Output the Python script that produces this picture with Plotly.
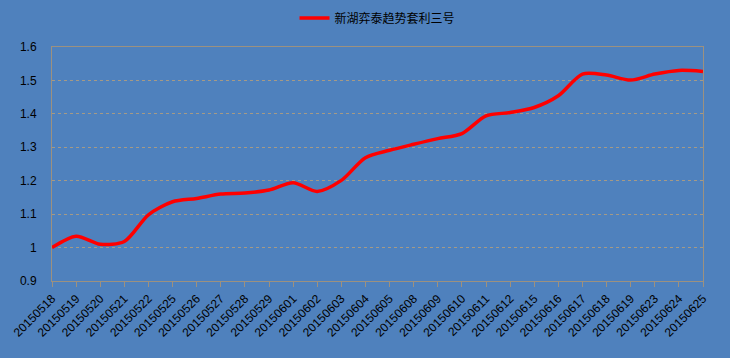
import plotly.graph_objects as go

dates = ["20150518", "20150519", "20150520", "20150521", "20150522",
         "20150525", "20150526", "20150527", "20150528", "20150529",
         "20150601", "20150602", "20150603", "20150604", "20150605",
         "20150608", "20150609", "20150610", "20150611", "20150612",
         "20150615", "20150616", "20150617", "20150618", "20150619",
         "20150623", "20150624", "20150625"]
nav = [1.000, 1.034, 1.010, 1.018, 1.098,
       1.137, 1.147, 1.160, 1.163, 1.172,
       1.194, 1.168, 1.201, 1.269, 1.291,
       1.309, 1.326, 1.341, 1.394, 1.404,
       1.419, 1.454, 1.519, 1.516, 1.501,
       1.519, 1.530, 1.527]
series_name = "新湖弈泰趋势套利三号"
y_ticks = [0.9, 1.0, 1.1, 1.2, 1.3, 1.4, 1.5, 1.6]
y_labels = ["0.9", "1", "1.1", "1.2", "1.3", "1.4", "1.5", "1.6"]

bg = "#4F81BD"
axis_col = "#9C9180"

fig = go.Figure()
fig.add_trace(go.Scatter(
    x=dates, y=nav, mode="lines", name=series_name,
    line=dict(color="#FF0000", width=3.5, shape="spline", smoothing=0.8),
))

fig.update_layout(
    width=730, height=358,
    paper_bgcolor=bg, plot_bgcolor=bg,
    margin=dict(l=52, r=27, t=47, b=77, autoexpand=False),
    font=dict(family="Liberation Sans, Arial, sans-serif", size=11, color="#000000"),
    showlegend=True,
    legend=dict(orientation="h", x=0.5, xanchor="center", y=0.95, yanchor="middle",
                yref="container", bgcolor="rgba(0,0,0,0)",
                font=dict(family="Noto Sans CJK SC, sans-serif", size=12, color="#000000")),
)

fig.update_xaxes(
    type="category", range=[0, len(dates) - 1],
    tickangle=-45, ticks="outside", ticklen=5, tickcolor=axis_col,
    showline=True, linecolor=axis_col, linewidth=1, mirror=True,
    showgrid=False, zeroline=False, automargin=False,
    tickfont=dict(size=12, color="#000000"),
)
fig.update_yaxes(
    range=[0.9, 1.6], tickvals=y_ticks, ticktext=y_labels,
    showline=True, linecolor=axis_col, linewidth=1, mirror=True,
    showgrid=True, gridcolor="#A59A86", griddash="dot", gridwidth=1,
    zeroline=False, ticks="", ticklabelstandoff=12, automargin=False,
    tickfont=dict(size=12, color="#000000"),
)

fig.write_html("out.html")
